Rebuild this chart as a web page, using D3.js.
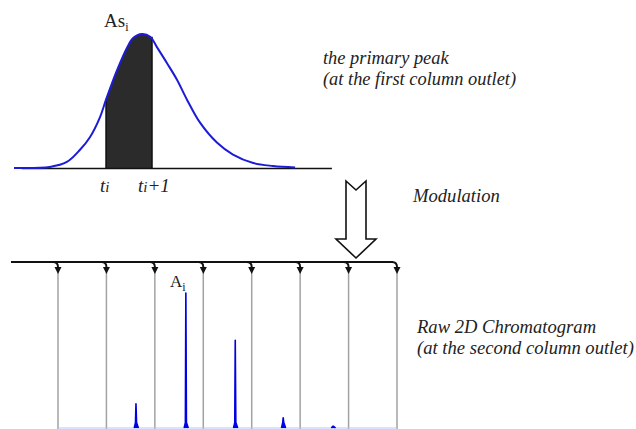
<!DOCTYPE html>
<html>
<head>
<meta charset="utf-8">
<script src="https://cdn.jsdelivr.net/npm/d3@7"></script>
<style>
  html, body { margin: 0; padding: 0; background: #fff; }
  #viz { width: 636px; height: 429px; overflow: hidden; }
  text { font-family: "Liberation Serif", "Times New Roman", serif; fill: #222; }
</style>
</head>
<body>
<div id="viz"></div>
<script>
// primary peak, time in modulation periods (t_i = 0), signal normalised to apex
const primaryTime   = [-2.0, -1.22, -0.85, -0.57, -0.35, -0.13, 0, 0.24, 0.46, 0.59, 0.78, 0.96, 1.11, 1.33, 1.54, 1.76, 2.04, 2.41, 2.76, 3.2, 3.63, 4.11];
const primarySignal = [0, 0.008, 0.045, 0.134, 0.23, 0.38, 0.51, 0.73, 0.90, 0.97, 1.0, 0.98, 0.90, 0.78, 0.66, 0.51, 0.34, 0.19, 0.10, 0.037, 0.015, 0.004];
const sliceStart = 0;
const sliceEnd = 1;

// modulation events and second-dimension peaks
const modulationTimes = [0, 1, 2, 3, 4, 5, 6, 7];
const secondPeakTimes   = [1.61, 2.64, 3.66, 4.65, 5.68];
const secondPeakHeights = [0.18, 1.0, 0.65, 0.075, 0.012];

const primaryNote = ["the primary peak", "(at the first column outlet)"];
const modulationNote = ["Modulation"];
const rawNote = ["Raw 2D Chromatogram", "(at the second column outlet)"];

document.addEventListener("DOMContentLoaded", () => {
    const width = 636;
    const height = 429;

    const svg = d3.select("#viz").append("svg")
        .attr("width", width)
        .attr("height", height);

    // ---------- top panel ----------
    const xTop = d3.scaleLinear().domain([-2, 4.11]).range([14, 295.1]);
    const yTop = d3.scaleLinear().domain([0, 1]).range([168, 34]);

    const primary = primaryTime.map((t, i) => ({ t: t, v: primarySignal[i] }));

    svg.append("clipPath").attr("id", "slice")
        .append("rect")
        .attr("x", xTop(sliceStart))
        .attr("y", 0)
        .attr("width", xTop(sliceEnd) - xTop(sliceStart))
        .attr("height", yTop(0));

    const area = d3.area()
        .x(d => xTop(d.t))
        .y0(yTop(0))
        .y1(d => yTop(d.v))
        .curve(d3.curveCatmullRom);

    svg.append("path")
        .datum(primary)
        .attr("d", area)
        .attr("clip-path", "url(#slice)")
        .attr("fill", "#2b2b2b");

    svg.selectAll(".slice-edge")
        .data([sliceStart, sliceEnd])
        .enter()
        .append("line")
        .attr("x1", d => xTop(d))
        .attr("x2", d => xTop(d))
        .attr("y1", yTop(0))
        .attr("y2", d => yTop(primarySignal[primaryTime.indexOf(d)] ?? 0.98))
        .attr("stroke", "#111")
        .attr("stroke-width", 1.5);

    svg.append("line")
        .attr("x1", xTop(-1.83))
        .attr("x2", xTop(4.91))
        .attr("y1", yTop(0) + 0.5)
        .attr("y2", yTop(0) + 0.5)
        .attr("stroke", "#111")
        .attr("stroke-width", 1.6);

    const line = d3.line()
        .x(d => xTop(d.t))
        .y(d => yTop(d.v))
        .curve(d3.curveCatmullRom);

    svg.append("path")
        .datum(primary)
        .attr("d", line)
        .attr("fill", "none")
        .attr("stroke", "#1c1cd8")
        .attr("stroke-width", 2);

    const asLabel = svg.append("text")
        .attr("x", 104)
        .attr("y", 27)
        .style("font-size", "19px");
    asLabel.append("tspan").text("As");
    asLabel.append("tspan").attr("dy", 4).style("font-size", "12px").text("i");

    const tiLabel = svg.append("text")
        .attr("x", xTop(sliceStart) - 6)
        .attr("y", 192)
        .style("font-size", "19px")
        .style("font-style", "italic");
    tiLabel.append("tspan").text("t");
    tiLabel.append("tspan").style("font-size", "15px").text("i");

    const ti1Label = svg.append("text")
        .attr("x", xTop(sliceEnd) - 14)
        .attr("y", 192)
        .style("font-size", "19px")
        .style("font-style", "italic");
    ti1Label.append("tspan").text("t");
    ti1Label.append("tspan").style("font-size", "15px").text("i");
    ti1Label.append("tspan").text("+1");

    svg.append("g").selectAll("text")
        .data(primaryNote)
        .enter()
        .append("text")
        .attr("x", 323)
        .attr("y", (d, i) => 63.5 + i * 21)
        .style("font-size", "18.4px")
        .style("font-style", "italic")
        .text(d => d);

    // ---------- modulation arrow ----------
    const ax = 356;
    const arrowPts = [
        [ax - 10, 181], [ax, 190], [ax + 10, 181], [ax + 10, 239],
        [ax + 20, 239], [ax, 258], [ax - 20, 239], [ax - 10, 239]
    ];
    svg.append("path")
        .attr("d", d3.line()(arrowPts) + "Z")
        .attr("fill", "#fff")
        .attr("stroke", "#111")
        .attr("stroke-width", 1.6)
        .attr("stroke-linejoin", "miter");

    svg.append("text")
        .attr("x", 413)
        .attr("y", 202)
        .style("font-size", "18.6px")
        .style("font-style", "italic")
        .text(modulationNote[0]);

    // ---------- bottom panel ----------
    const xBot = d3.scaleLinear().domain([0, 7]).range([58, 397]);
    const yBot = d3.scaleLinear().domain([0, 1]).range([428, 293]);
    const railY = 262;

    svg.selectAll(".mod-line")
        .data(modulationTimes)
        .enter()
        .append("line")
        .attr("x1", d => xBot(d))
        .attr("x2", d => xBot(d))
        .attr("y1", 272)
        .attr("y2", height)
        .attr("stroke", "#a2a2a2")
        .attr("stroke-width", 1.5);

    svg.append("line")
        .attr("x1", xBot(0))
        .attr("x2", xBot(7))
        .attr("y1", yBot(0))
        .attr("y2", yBot(0))
        .attr("stroke", "#b8c6ff")
        .attr("stroke-width", 1.2);

    svg.append("line")
        .attr("x1", 11)
        .attr("x2", xBot(7) - 4)
        .attr("y1", railY)
        .attr("y2", railY)
        .attr("stroke", "#111")
        .attr("stroke-width", 2);

    svg.selectAll(".hook")
        .data(modulationTimes)
        .enter()
        .append("path")
        .attr("d", d => {
            const x = xBot(d);
            return `M${x - 5},${railY} Q${x},${railY} ${x},${railY + 5} L${x},${railY + 6}`;
        })
        .attr("fill", "none")
        .attr("stroke", "#111")
        .attr("stroke-width", 2);

    svg.selectAll(".head")
        .data(modulationTimes)
        .enter()
        .append("path")
        .attr("d", d => {
            const x = xBot(d);
            return `M${x - 3.5},${railY + 5} L${x + 3.5},${railY + 5} L${x},${railY + 12} Z`;
        })
        .attr("fill", "#111");

    const peakLine = d3.line()
        .x(d => xBot(d[0]))
        .y(d => yBot(d[1]));

    svg.selectAll(".peak")
        .data(secondPeakTimes.map((t, i) => [t, secondPeakHeights[i]]))
        .enter()
        .append("path")
        .attr("d", d => peakLine([
            [d[0] - 0.035, 0], [d[0] - 0.01, Math.min(d[1], 0.04)],
            [d[0], d[1]], [d[0] + 0.012, Math.min(d[1], 0.04)], [d[0] + 0.05, 0]
        ]))
        .attr("fill", "#0000e6")
        .attr("stroke", "#0000e6")
        .attr("stroke-width", 1.6)
        .attr("stroke-linejoin", "round");

    const aLabel = svg.append("text")
        .attr("x", 170)
        .attr("y", 287)
        .style("font-size", "17px");
    aLabel.append("tspan").text("A");
    aLabel.append("tspan").attr("dy", 4).style("font-size", "12px").text("i");

    svg.append("g").selectAll("text")
        .data(rawNote)
        .enter()
        .append("text")
        .attr("x", 417)
        .attr("y", (d, i) => 333 + i * 21)
        .style("font-size", "18.6px")
        .style("font-style", "italic")
        .text(d => d);
});
</script>
</body>
</html>
